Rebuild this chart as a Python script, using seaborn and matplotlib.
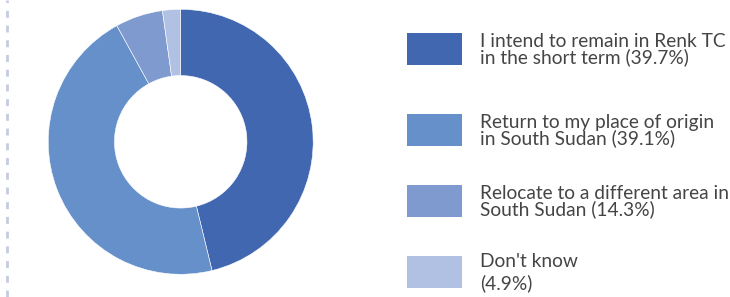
import matplotlib
matplotlib.use("Agg")
import matplotlib.pyplot as plt
import seaborn as sns
from matplotlib.patches import Rectangle

# Slice sizes as read from the donut, legend texts as printed
labels = [
    "I intend to remain in Renk TC\nin the short term (39.7%)",
    "Return to my place of origin\nin South Sudan (39.1%)",
    "Relocate to a different area in\nSouth Sudan (14.3%)",
    "Don't know\n(4.9%)",
]
shares = [46.2, 45.8, 5.8, 2.2]
colors = ["#4167B0", "#6690CA", "#7F9ACE", "#B0C1E3"]

sns.set_theme(style="white")
plt.rcParams['font.family'] = ['Lato', 'DejaVu Sans']

W, H = 730, 297
fig = plt.figure(figsize=(W / 100, H / 100), dpi=100)

# donut
ax = fig.add_axes([48.2 / W, 22.7 / H, 265 / W, 265 / H])
ax.pie(shares, colors=colors, startangle=90, counterclock=False, radius=1.0,
       wedgeprops=dict(width=0.5, edgecolor="white", linewidth=0.4))
ax.set_xlim(-1, 1)
ax.set_ylim(-1, 1)
ax.set_aspect("equal")
ax.axis("off")

# dashed guide line on the left edge
fig.add_artist(plt.Line2D([7 / W, 7 / W], [0, 1], transform=fig.transFigure,
                          color="#C5CBE0", linewidth=2, linestyle=(0, (2.5, 2.8))))

# legend drawn by hand
lax = fig.add_axes([0, 0, 1, 1])
lax.set_xlim(0, W)
lax.set_ylim(H, 0)
lax.axis("off")
centers = [48.5, 130, 201, 271.5]
for lab, col, cy in zip(labels, colors, centers):
    lax.add_patch(Rectangle((406.5, cy - 16), 55, 32, color=col, linewidth=0))
    ls = 1.25 if lab.startswith("Don") else 0.88
    lax.text(480, cy + 1, lab, fontsize=13.8, color="#454545", va="center", ha="left",
             linespacing=ls)

fig.savefig("out.png", dpi=100)
